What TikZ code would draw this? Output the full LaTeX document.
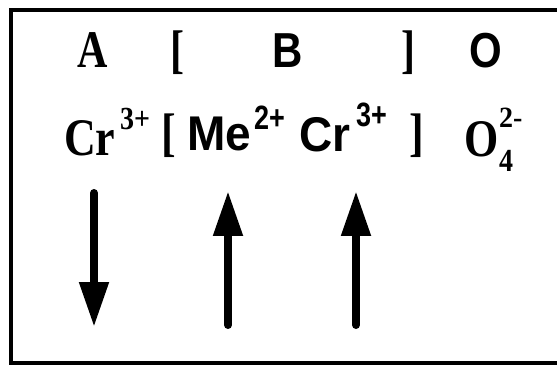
\documentclass[tikz,border=0pt]{standalone}
\usepackage{fontspec}
\setmainfont{Liberation Serif}
\newfontfamily\arialfont{Liberation Sans}
\usetikzlibrary{arrows.meta}
\newcommand{\stx}[2]{\scalebox{1}[#1]{#2}}
\tikzset{
  txt/.style={inner sep=0pt, anchor=base west},
  spin/.style={line width=8pt, line cap=round, -{Triangle[width=28pt,length=45pt]}},
  frame/.style={line width=4pt, line cap=butt}
}
\newcommand{\sA}{\fontsize{42}{42}\selectfont\bfseries}
\newcommand{\sB}{\arialfont\fontsize{42}{42}\selectfont\bfseries}
\newcommand{\sC}{\fontsize{44}{44}\selectfont\bfseries}
\newcommand{\sD}{\arialfont\fontsize{46}{46}\selectfont\bfseries}
\newcommand{\sE}{\fontsize{28}{28}\selectfont\bfseries}
\newcommand{\sF}{\arialfont\fontsize{27}{27}\selectfont\bfseries}
\begin{document}
\begin{tikzpicture}[x=1pt,y=-1pt]
\useasboundingbox (0,0) rectangle (557,366);
% frame
\coordinate (tl) at (10.5,10);
\coordinate (tr) at (559,10);
\coordinate (bl) at (10.5,363);
\coordinate (br) at (559,363);
\draw[frame] (tr) -- (tl) -- (bl) -- (br);
% row 1
\node[txt] (A) at (77,68) {\sA\stx{1.26}{A}};
\node[txt] (lb1) at (170,68) {\sA\stx{1.26}{[}};
\node[txt] (B) at (272,68) {\sB\stx{1.17}{B}};
\node[txt] (rb1) at (401,68) {\sA\stx{1.26}{]}};
\node[txt] (O1) at (469,68) {\sB\stx{1.17}{O}};
% row 2
\node[txt] (CrA) at (64,156) {\sC\stx{1.2}{Cr}};
\node[txt] (CrAs) at (120,130) {\sE\stx{1.15}{3+}};
\node[txt] (lb2) at (161,151) {\sC\stx{1.2}{[}};
\node[txt] (Me) at (187,151) {\sD\stx{1.06}{Me}};
\node[txt] (Mes) at (254,130) {\sF\stx{1.25}{2+}};
\node[txt] (CrB) at (299,152) {\sD\stx{1.06}{Cr}};
\node[txt] (CrBs) at (356,127) {\sF\stx{1.25}{3+}};
\node[txt] (rb2) at (409,151) {\sC\stx{1.2}{]}};
\node[txt] (O2) at (464,157) {\sC\stx{1.2}{O}};
\node[txt] (O2s) at (499,128) {\sE\stx{1.05}{2-}};
\node[txt] (O2b) at (499,172) {\sE\stx{1.15}{4}};
% spins
\coordinate (a1s) at (94,193);
\coordinate (a1e) at (94,327);
\coordinate (a2s) at (228,325);
\coordinate (a2e) at (228,191);
\coordinate (a3s) at (356,325);
\coordinate (a3e) at (356,191);
\draw[spin] (a1s) -- (a1e);
\draw[spin] (a2s) -- (a2e);
\draw[spin] (a3s) -- (a3e);
\end{tikzpicture}
\end{document}
